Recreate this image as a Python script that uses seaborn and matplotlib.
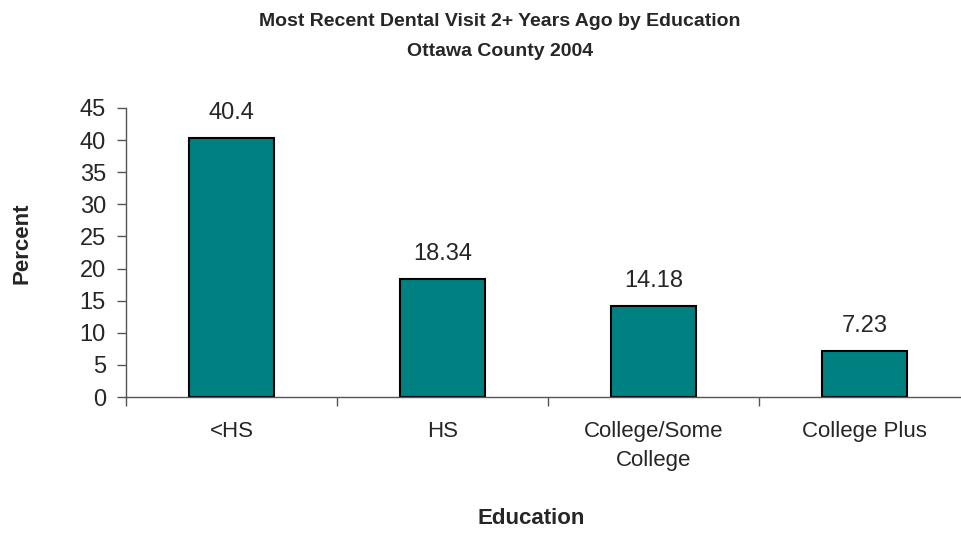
import pandas as pd
import numpy as np
import matplotlib
matplotlib.use("Agg")
import matplotlib.pyplot as plt
import seaborn as sns

# Chart data
categories = ["<HS", "HS", "College/Some\nCollege", "College Plus"]
percent = [40.4, 18.34, 14.18, 7.23]
value_labels = ["40.4", "18.34", "14.18", "7.23"]

df = pd.DataFrame({"Education": categories, "Percent": percent})

sns.set_style("white")
plt.rcParams['font.family'] = ['Liberation Sans', 'DejaVu Sans']

fig = plt.figure(figsize=(9.61, 5.33), dpi=100)
# plot area runs a bit past the right edge, as in the original
ax = fig.add_axes([126 / 961, 136 / 533, 844 / 961, 289 / 533])

sns.barplot(x="Education", y="Percent", data=df, color="#008080",
            edgecolor="black", linewidth=1.5, width=0.4, saturation=1, ax=ax)

ax.set_ylim(0, 45)
ax.set_xlim(-0.5, 3.5)
ax.set_yticks(np.arange(0, 46, 5))
ax.tick_params(axis="y", labelsize=17, length=6.5, width=1, color="#555555",
               direction="out", left=True, pad=8)
ax.tick_params(axis="x", which="major", length=0, labelsize=16, pad=17)
for lab in ax.get_xticklabels():
    lab.set_linespacing(1.55)
ax.set_xticks(np.arange(-0.5, 4, 1), minor=True)
ax.tick_params(axis="x", which="minor", length=6.5, width=1, color="#555555",
               direction="out", bottom=True)

for side in ["top", "right"]:
    ax.spines[side].set_visible(False)
for side in ["left", "bottom"]:
    ax.spines[side].set_color("#555555")
    ax.spines[side].set_linewidth(1)

ax.bar_label(ax.containers[0], labels=value_labels, padding=10, fontsize=17)

ax.set_ylabel("Percent", fontsize=16, fontweight="bold", va="center")
ax.yaxis.set_label_coords((22 - 126) / 844, (397 - 243) / 289)
ax.set_xlabel("Education", fontsize=16, fontweight="bold", va="center")
ax.xaxis.set_label_coords((531 - 126) / 844, -(518 - 397) / 289)

fig.text(500 / 961, 1 - 21 / 533, "Most Recent Dental Visit 2+ Years Ago by Education",
         ha="center", va="center", fontsize=14, fontweight="bold")
fig.text(500 / 961, 1 - 51 / 533, "Ottawa County 2004",
         ha="center", va="center", fontsize=14, fontweight="bold")

fig.savefig("out.png", dpi=100)
